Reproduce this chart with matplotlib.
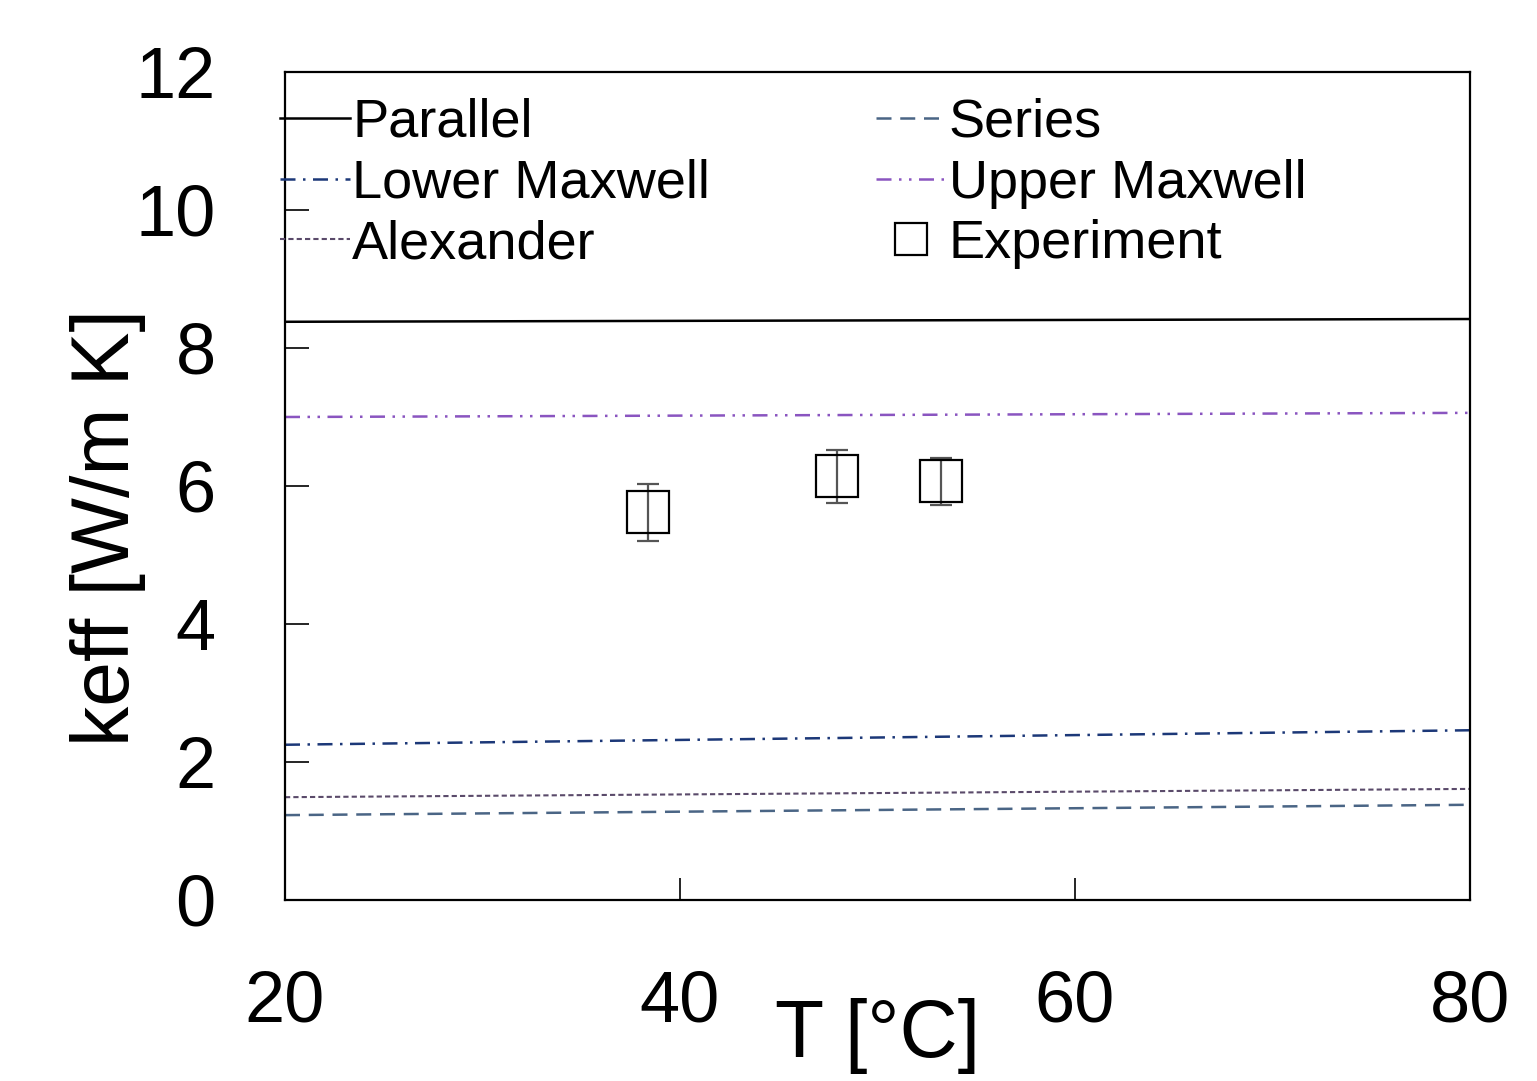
import matplotlib
matplotlib.use("Agg")
import matplotlib.pyplot as plt
from matplotlib.lines import Line2D

plt.rcParams['font.family'] = ['Liberation Sans', 'DejaVu Sans']

# Model curves (endpoints at T=20 and T=80)
T_model = [20, 80]
parallel = [8.38, 8.42]
series = [1.23, 1.38]
lower_maxwell = [2.25, 2.46]
upper_maxwell = [7.00, 7.06]
alexander = [1.49, 1.61]

# Experiment
T_exp = [38.4, 47.95, 53.2]
k_exp = [5.62, 6.14, 6.07]
k_err = [0.41, 0.38, 0.34]

xticks = [20, 40, 60, 80]
yticks = [0, 2, 4, 6, 8, 10, 12]

fig = plt.figure(figsize=(15.37, 10.81), dpi=100)
ax = fig.add_axes([285/1537, 1-900/1081, (1470-285)/1537, (900-72)/1081])

ax.plot(T_model, parallel, color='black', lw=1.8, ls='-', label='Parallel')
ax.plot(T_model, series, color='#4a6585', lw=1.8, ls=(0, (6, 3.5)), label='Series')
ax.plot(T_model, lower_maxwell, color='#1c3878', lw=1.8, ls=(0, (6, 3, 1, 3)), label='Lower Maxwell')
ax.plot(T_model, upper_maxwell, color='#8a55c0', lw=1.8, ls=(0, (6, 3, 1, 3, 1, 3)), label='Upper Maxwell')
ax.plot(T_model, alexander, color='#5a4a6a', lw=1.5, ls=(0, (2.5, 1.5)), label='Alexander')

ax.errorbar(T_exp, k_exp, yerr=k_err, fmt='none', ecolor='#555555', elinewidth=1.6,
            capsize=8, capthick=1.6, zorder=3)
ax.plot(T_exp, k_exp, ls='none', marker='s', markersize=30, markerfacecolor='none',
        markeredgecolor='black', markeredgewidth=1.6, label='Experiment', zorder=4)

ax.set_xlim(20, 80)
ax.set_ylim(0, 12)
ax.set_xticks(xticks)
ax.set_yticks(yticks)
ax.tick_params(axis='y', direction='in', length=17, width=1.2, labelsize=52, pad=50)
ax.tick_params(axis='x', direction='in', length=16, width=1.2, labelsize=52, pad=50)
for s in ax.spines.values():
    s.set_linewidth(1.6)

ax.set_xlabel('T [°C]', fontsize=58)
ax.set_ylabel('keff [W/m K]', fontsize=58)
ax.yaxis.set_label_coords(-0.117, 0.45)
ax.xaxis.set_label_coords(0.5, -0.118)

h, l = ax.get_legend_handles_labels()
order = ['Parallel', 'Series', 'Lower Maxwell', 'Upper Maxwell', 'Alexander', 'Experiment']
hd = dict(zip(l, h))
leg_handles = []
for name in order:
    hh = hd[name]
    if name == 'Experiment':
        leg_handles.append(Line2D([], [], ls='none', marker='s', markersize=23,
                                  markerfacecolor='none', markeredgecolor='black', markeredgewidth=1.6))
    else:
        leg_handles.append(hh)
# column-major ordering for ncol=2
col_order = [0, 2, 4, 1, 3, 5]
leg = ax.legend([leg_handles[i] for i in col_order], [order[i] for i in col_order],
                ncol=2, frameon=False, fontsize=39, loc='upper left',
                bbox_to_anchor=(-0.004, 0.969), handlelength=1.28, handletextpad=0.05,
                columnspacing=3.07, labelspacing=0.2, borderaxespad=0, borderpad=0)

fig.savefig('out.png', dpi=100)
